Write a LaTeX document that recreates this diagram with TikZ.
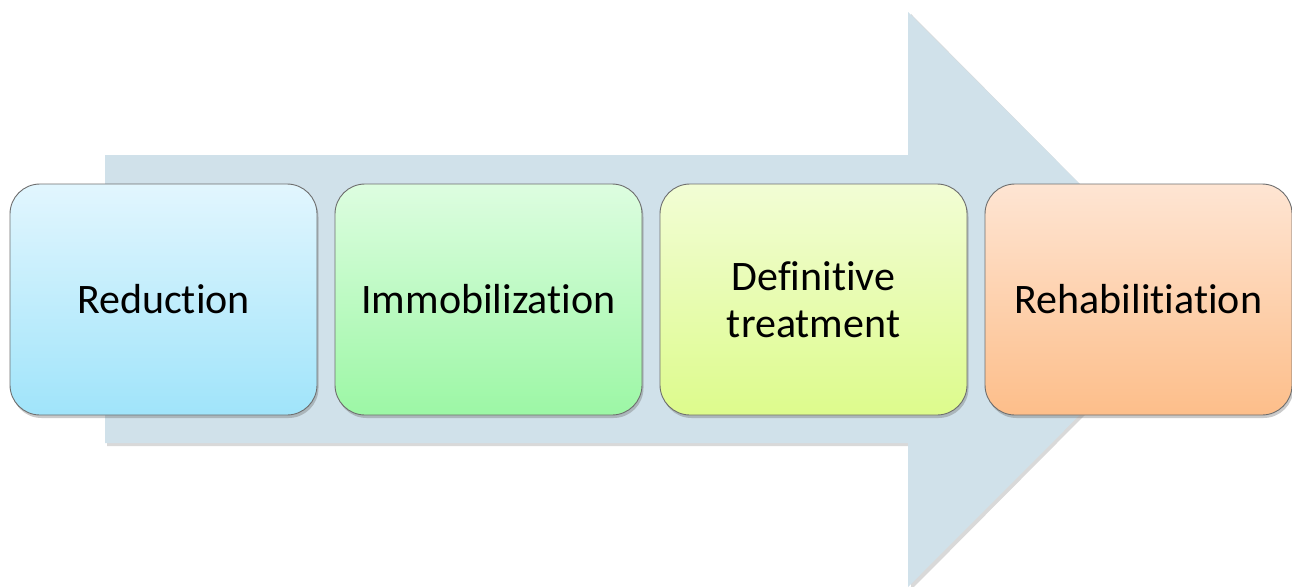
\documentclass[tikz,border=0pt]{standalone}
\usepackage{fontspec}
\setmainfont[Ligatures=NoCommon]{Carlito}
\usetikzlibrary{shadows}
\definecolor{arrowfill}{HTML}{D0E1EA}
\definecolor{boxline}{HTML}{6E6E6E}
\tikzset{
  stagebox/.style={draw=boxline, line width=0.9pt, rounded corners=30pt,
    minimum width=307pt, minimum height=231pt, align=center, inner sep=0pt,
    font=\fontsize{42}{47}\selectfont, text=black,
    drop shadow={shadow xshift=1.5pt, shadow yshift=-3pt, opacity=0.35, fill=black!60}},
}
\begin{document}
\begin{tikzpicture}[x=1pt,y=-1pt]
\useasboundingbox (0,0) rectangle (1292,586);
% big background arrow
\fill[black!25, opacity=0.6] (107,158) -- (911,158) -- (911,14) -- (1197,302) -- (911,590) -- (911,446) -- (107,446) -- cycle;
\fill[arrowfill] (105,155) -- (908,155) -- (908,12) -- (1195,299.5) -- (908,587) -- (908,443) -- (105,443) -- cycle;
% stage boxes
\node[stagebox, top color={rgb,255:red,226;green,246;blue,254}, bottom color={rgb,255:red,160;green,228;blue,250}] (reduction) at (163.5,299.5) {Reduction};
\node[stagebox, top color={rgb,255:red,221;green,253;blue,224}, bottom color={rgb,255:red,156;green,247;blue,165}] (immob) at (488.5,299.5) {Immobilization};
\node[stagebox, top color={rgb,255:red,242;green,253;blue,213}, bottom color={rgb,255:red,221;green,251;blue,140}] (definitive) at (813.5,299.5) {Definitive\\treatment};
\node[stagebox, top color={rgb,255:red,254;green,229;blue,211}, bottom color={rgb,255:red,253;green,190;blue,138}] (rehab) at (1138.5,299.5) {Rehabilitiation};
\end{tikzpicture}
\end{document}
